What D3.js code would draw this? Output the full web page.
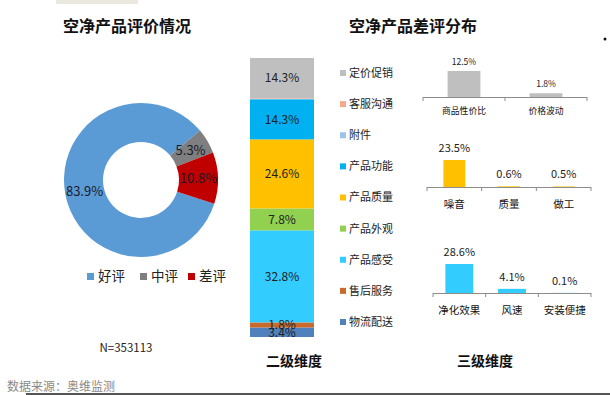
<!DOCTYPE html>
<html>
<head>
<meta charset="utf-8">
<script src="https://cdn.jsdelivr.net/npm/d3@7"></script>
<style>
  body { margin: 0; background: #fff; }
  svg { display: block; font-family: "Noto Sans CJK SC", "Microsoft YaHei", sans-serif; }
  .title { font-size: 16px; font-weight: bold; fill: #111; }
  .sub { font-size: 14px; font-weight: bold; fill: #111; }
</style>
</head>
<body>
<div id="chart"></div>
<script>
// donut: overall rating
var rateNames = ["好评", "中评", "差评"];
var rateValues = [83.9, 5.3, 10.8];
var rateColors = ["#5b9bd5", "#7f7f7f", "#c00000"];

// stacked bar: second level (bottom to top)
var level2Names = ["物流配送", "售后服务", "产品感受", "产品外观", "产品质量", "产品功能", "附件", "客服沟通", "定价促销"];
var level2Values = [3.4, 1.8, 32.8, 7.8, 24.6, 14.3, 0.2, 0.2, 14.3];
var level2Colors = ["#4f81bd", "#c86a2b", "#33ccff", "#92d050", "#ffc000", "#00b0f0", "#9dc3e6", "#f4a98a", "#bfbfbf"];

// third level small bar charts
var priceNames = ["商品性价比", "价格波动"];
var priceValues = [12.5, 1.8];
var qualityNames = ["噪音", "质量", "做工"];
var qualityValues = [23.5, 0.6, 0.5];
var feelNames = ["净化效果", "风速", "安装便捷"];
var feelValues = [28.6, 4.1, 0.1];

var W = 610, H = 395;
var svg = d3.select("#chart").append("svg")
    .attr("width", W)
    .attr("height", H);

// decorations
svg.append("rect").attr("x", 56).attr("y", 0).attr("width", 82).attr("height", 4).attr("fill", "#ebe8e0");
svg.append("rect").attr("x", 26).attr("y", 393).attr("width", 584).attr("height", 2).attr("fill", "#555");
svg.append("circle").attr("cx", 605).attr("cy", 39).attr("r", 1.5).attr("fill", "#111");

// titles
svg.append("text").attr("class", "title").attr("x", 127).attr("y", 32).attr("text-anchor", "middle").text("空净产品评价情况");
svg.append("text").attr("class", "title").attr("x", 413).attr("y", 32).attr("text-anchor", "middle").text("空净产品差评分布");

/*********************
 * DONUT
*********************/
var cx = 141, cy = 180;
var pie = d3.pie()
    .sort(null)
    .startAngle(108 * Math.PI / 180)
    .endAngle(108 * Math.PI / 180 + 2 * Math.PI);
var arc = d3.arc().innerRadius(38).outerRadius(77);
var arcs = pie(rateValues);

var donut = svg.append("g").attr("transform", "translate(" + cx + "," + cy + ")");
donut.selectAll("path")
    .data(arcs)
    .enter()
    .append("path")
    .attr("d", arc)
    .attr("fill", function (d, i) { return rateColors[i]; });

donut.selectAll("text")
    .data(arcs)
    .enter()
    .append("text")
    .attr("transform", function (d) { return "translate(" + arc.centroid(d) + ")"; })
    .attr("text-anchor", "middle")
    .attr("dy", "0.35em")
    .style("font-size", "13px")
    .style("fill", "#1a1a2a")
    .text(function (d) { return d.data.toFixed(1) + "%"; });

// donut legend
var legX = [87, 140, 188];
var leg = svg.append("g");
leg.selectAll("rect")
    .data(rateNames)
    .enter()
    .append("rect")
    .attr("x", function (d, i) { return legX[i]; })
    .attr("y", 273)
    .attr("width", 7)
    .attr("height", 7)
    .attr("fill", function (d, i) { return rateColors[i]; });
leg.selectAll("text")
    .data(rateNames)
    .enter()
    .append("text")
    .attr("x", function (d, i) { return legX[i] + 11; })
    .attr("y", 281)
    .style("font-size", "13.5px")
    .style("fill", "#222")
    .text(function (d) { return d; });

svg.append("text")
    .attr("x", 126).attr("y", 352)
    .attr("text-anchor", "middle")
    .style("font-size", "11.5px")
    .style("fill", "#222")
    .text("N=353113");

svg.append("text")
    .attr("x", 7).attr("y", 391)
    .style("font-size", "12px")
    .style("fill", "#8a8a8a")
    .text("数据来源：奥维监测");

/*********************
 * STACKED BAR
*********************/
var stackData = [{}];
level2Names.forEach(function (n, i) { stackData[0][n] = level2Values[i]; });
var series = d3.stack().keys(level2Names)(stackData);

var xs = d3.scaleBand().domain(["二级维度"]).range([250, 314]).padding(0);
var ys = d3.scaleLinear().domain([0, d3.sum(level2Values)]).range([337, 58]);

var stackG = svg.append("g");
stackG.selectAll("rect")
    .data(series)
    .enter()
    .append("rect")
    .attr("x", xs("二级维度"))
    .attr("width", xs.bandwidth())
    .attr("y", function (d) { return ys(d[0][1]); })
    .attr("height", function (d) { return ys(d[0][0]) - ys(d[0][1]); })
    .attr("fill", function (d, i) { return level2Colors[i]; });

stackG.selectAll("text")
    .data(series.filter(function (d) { return d[0][1] - d[0][0] >= 1; }))
    .enter()
    .append("text")
    .attr("x", xs("二级维度") + xs.bandwidth() / 2)
    .attr("y", function (d) { return ys((d[0][0] + d[0][1]) / 2); })
    .attr("dy", "0.36em")
    .attr("text-anchor", "middle")
    .style("font-size", "12px")
    .style("fill", "#222")
    .text(function (d) { return (d[0][1] - d[0][0]).toFixed(1) + "%"; });

// stacked legend (top item first)
var legendNames = level2Names.slice().reverse();
var legendColors = level2Colors.slice().reverse();
var ly = d3.scalePoint().domain(legendNames).range([73, 322]);
var leg2 = svg.append("g");
leg2.selectAll("rect")
    .data(legendNames)
    .enter()
    .append("rect")
    .attr("x", 340)
    .attr("y", function (d) { return ly(d) - 3; })
    .attr("width", 6)
    .attr("height", 6)
    .attr("fill", function (d, i) { return legendColors[i]; });
leg2.selectAll("text")
    .data(legendNames)
    .enter()
    .append("text")
    .attr("x", 349)
    .attr("y", function (d) { return ly(d); })
    .attr("dy", "0.36em")
    .style("font-size", "11px")
    .style("fill", "#222")
    .text(function (d) { return d; });

svg.append("text").attr("class", "sub").attr("x", 294).attr("y", 366).attr("text-anchor", "middle").text("二级维度");
svg.append("text").attr("class", "sub").attr("x", 485).attr("y", 366).attr("text-anchor", "middle").text("三级维度");

/*********************
 * SMALL BAR CHARTS
*********************/
function smallBars(names, values, opt) {
    var x = d3.scaleBand().domain(names).range([opt.x0, opt.x1]).padding(0);
    var y = d3.scaleLinear().domain([0, opt.max]).range([opt.base, opt.base - opt.h]);
    var g = svg.append("g");
    var bw = x.bandwidth() * opt.frac;

    g.selectAll("rect")
        .data(values)
        .enter()
        .append("rect")
        .attr("x", function (d, i) { return x(names[i]) + (x.bandwidth() - bw) / 2; })
        .attr("width", bw)
        .attr("y", function (d) { return y(d); })
        .attr("height", function (d) { return y(0) - y(d); })
        .attr("fill", opt.color);

    g.selectAll(".val")
        .data(values)
        .enter()
        .append("text")
        .attr("class", "val")
        .attr("x", function (d, i) { return x(names[i]) + x.bandwidth() / 2; })
        .attr("y", function (d) { return y(d) - opt.gap; })
        .attr("text-anchor", "middle")
        .style("font-size", opt.valSize)
        .style("fill", "#222")
        .text(function (d) { return d.toFixed(1) + "%"; });

    // axis line and boundary ticks
    var bounds = names.map(function (n) { return x(n); }).concat([opt.x1]);
    g.append("line")
        .attr("x1", opt.x0).attr("x2", opt.x1)
        .attr("y1", opt.base + 0.5).attr("y2", opt.base + 0.5)
        .attr("stroke", "#8c8c8c");
    g.selectAll(".tk")
        .data(bounds)
        .enter()
        .append("line")
        .attr("class", "tk")
        .attr("x1", function (d) { return d; }).attr("x2", function (d) { return d; })
        .attr("y1", opt.base).attr("y2", opt.base + 4)
        .attr("stroke", "#8c8c8c");

    var ax = g.append("g")
        .attr("transform", "translate(0," + opt.base + ")")
        .call(d3.axisBottom(x).tickSize(0).tickPadding(opt.pad));
    ax.select(".domain").remove();
    ax.selectAll("text")
        .style("font-family", "\"Noto Sans CJK SC\", \"Microsoft YaHei\", sans-serif")
        .style("font-size", opt.labSize)
        .style("fill", "#111");
}

smallBars(priceNames, priceValues, {
    x0: 423, x1: 587, base: 97, max: 15, h: 31.2, frac: 0.4,
    color: "#bfbfbf", gap: 6, valSize: "8.5px", labSize: "8.8px", pad: 11
});
smallBars(qualityNames, qualityValues, {
    x0: 427, x1: 591, base: 187, max: 25, h: 28.7, frac: 0.4,
    color: "#ffc000", gap: 8, valSize: "11px", labSize: "10.5px", pad: 14
});
smallBars(feelNames, feelValues, {
    x0: 433, x1: 591, base: 293, max: 30, h: 30.4, frac: 0.53,
    color: "#33ccff", gap: 8, valSize: "11px", labSize: "10.5px", pad: 14
});
</script>
</body>
</html>
